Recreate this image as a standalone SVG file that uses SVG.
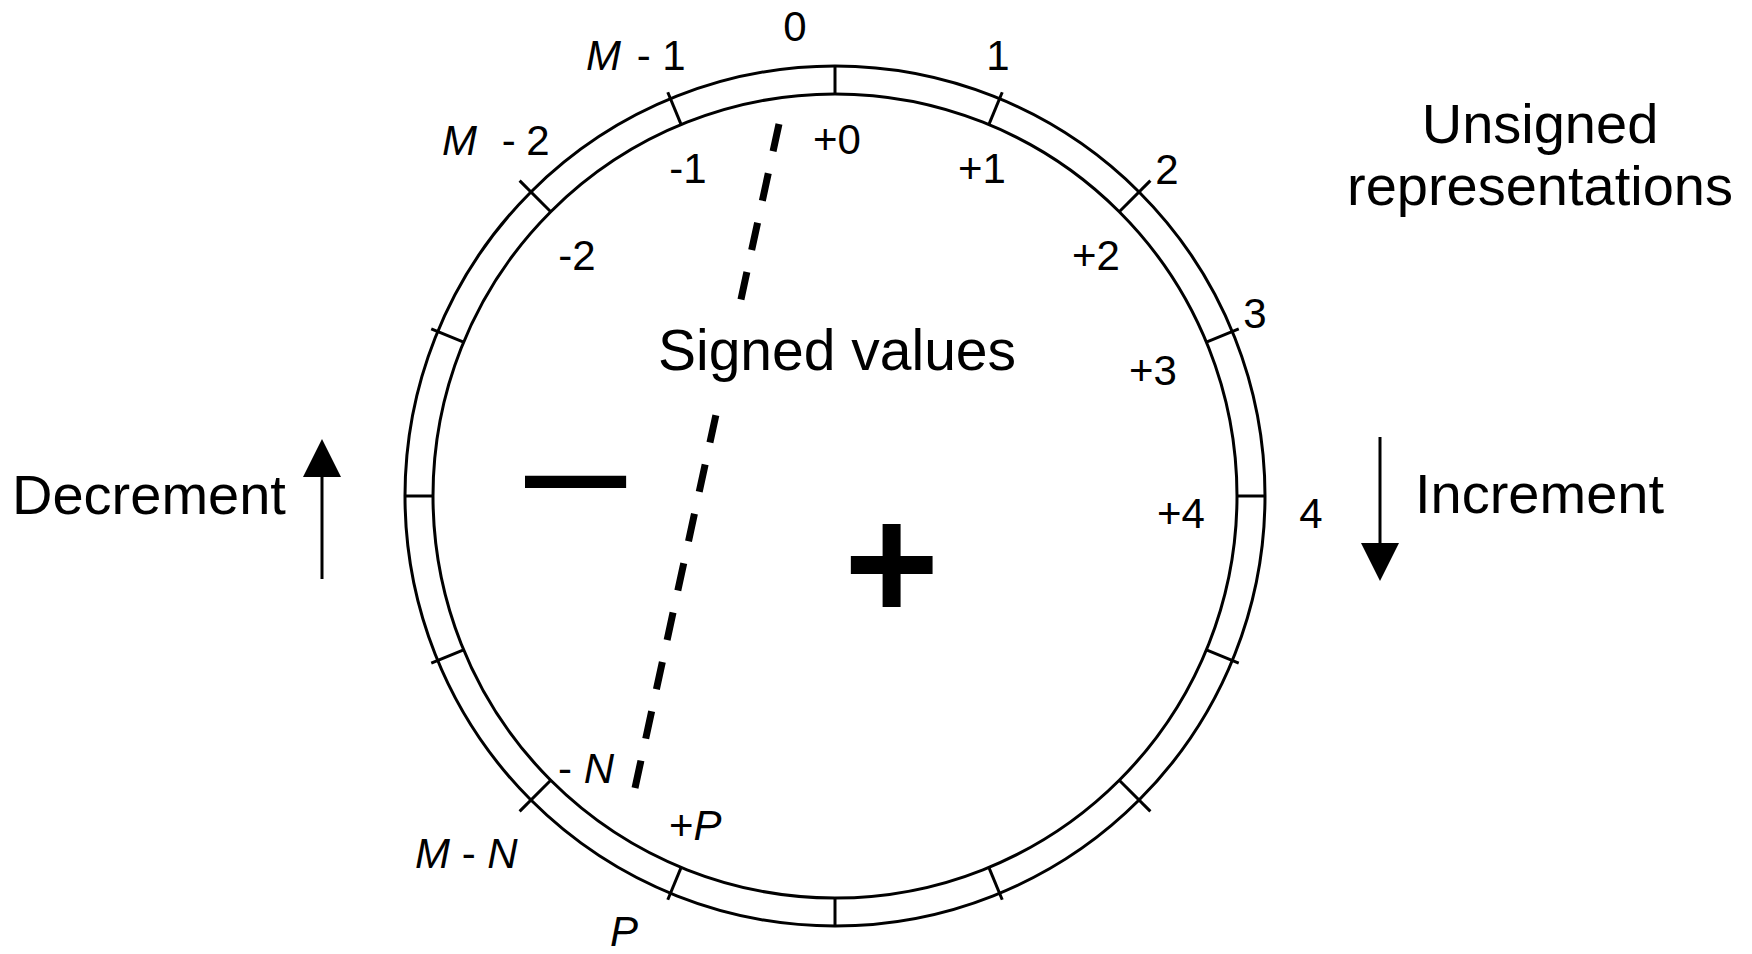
<svg xmlns="http://www.w3.org/2000/svg" width="1752" height="954" viewBox="0 0 1752 954">
<style>
.ring{fill:none;stroke:#000;stroke-width:3}
.tick{stroke:#000;stroke-width:3}
.t{font-family:"Liberation Sans",Arial,sans-serif;font-size:42px;fill:#000}
.big{font-size:56px}
.c{text-anchor:middle}
.i{font-style:italic}
.dash{fill:none;stroke:#000;stroke-width:7;stroke-dasharray:28 22.5}
.arr{stroke:#000;stroke-width:3;fill:none}
</style>
<defs>
<marker id="head" viewBox="0 0 38 38" refX="28" refY="19" markerWidth="38" markerHeight="38" markerUnits="userSpaceOnUse" orient="auto">
<path d="M0,0 L38,19 L0,38 Z" fill="#000"/>
</marker>
</defs>
<rect width="1752" height="954" fill="#fff"/>
<g id="ring">
<circle class="ring" cx="835" cy="496" r="430"/>
<circle class="ring" cx="835" cy="496" r="402"/>
</g>
<g id="ticks">
<line class="tick" x1="835" y1="94" x2="835" y2="66"/>
<line class="tick" x1="988.84" y1="124.6" x2="1002.23" y2="92.26"/>
<line class="tick" x1="1119.26" y1="211.74" x2="1150.37" y2="180.63"/>
<line class="tick" x1="1206.4" y1="342.16" x2="1238.74" y2="328.77"/>
<line class="tick" x1="1237" y1="496" x2="1265" y2="496"/>
<line class="tick" x1="1206.4" y1="649.84" x2="1238.74" y2="663.23"/>
<line class="tick" x1="1119.26" y1="780.26" x2="1150.37" y2="811.37"/>
<line class="tick" x1="988.84" y1="867.4" x2="1002.23" y2="899.74"/>
<line class="tick" x1="835" y1="898" x2="835" y2="926"/>
<line class="tick" x1="681.16" y1="867.4" x2="667.77" y2="899.74"/>
<line class="tick" x1="550.74" y1="780.26" x2="519.63" y2="811.37"/>
<line class="tick" x1="463.6" y1="649.84" x2="431.26" y2="663.23"/>
<line class="tick" x1="433" y1="496" x2="405" y2="496"/>
<line class="tick" x1="463.6" y1="342.16" x2="431.26" y2="328.77"/>
<line class="tick" x1="550.74" y1="211.74" x2="519.63" y2="180.63"/>
<line class="tick" x1="681.16" y1="124.6" x2="667.77" y2="92.26"/>
</g>
<g id="unsigned-labels">
<text class="t c" x="795" y="41">0</text>
<text class="t c" x="998" y="70">1</text>
<text class="t c" x="1167" y="184">2</text>
<text class="t c" x="1255" y="328">3</text>
<text class="t c" x="1311" y="528">4</text>
<text class="t" x="586" y="70"><tspan class="i">M</tspan><tspan dx="4"> - 1</tspan></text>
<text class="t" x="442" y="155"><tspan class="i">M</tspan><tspan dx="13"> -</tspan><tspan dx="-1"> 2</tspan></text>
<text class="t" x="415" y="868"><tspan class="i">M</tspan> - <tspan class="i">N</tspan></text>
<text class="t i" x="610" y="946">P</text>
</g>
<g id="signed-labels">
<text class="t c" x="837" y="154">+0</text>
<text class="t c" x="982" y="183">+1</text>
<text class="t c" x="1096" y="270">+2</text>
<text class="t c" x="1153" y="385">+3</text>
<text class="t c" x="1181" y="528">+4</text>
<text class="t c" x="688" y="183">-1</text>
<text class="t c" x="577" y="270">-2</text>
<text class="t" x="558" y="783">- <tspan class="i">N</tspan></text>
<text class="t" x="669" y="840">+<tspan class="i">P</tspan></text>
</g>
<g id="connectors">
<line class="dash" x1="779" y1="124" x2="740.95" y2="299.4"/>
<line class="dash" x1="715.86" y1="415.15" x2="635" y2="788"/>
<line class="arr" x1="322" y1="579" x2="322" y2="449" marker-end="url(#head)"/>
<line class="arr" x1="1380" y1="437" x2="1380" y2="571" marker-end="url(#head)"/>
</g>
<g id="signs">
<text class="t" x="525" y="528" style="font-size:182px">–</text>
<text class="t c" x="891.5" y="620" style="font-size:163px;font-weight:bold">+</text>
</g>
<g id="titles">
<text class="t big c" x="837" y="370" style="font-size:57px">Signed values</text>
<text class="t big c" x="1540" y="143">Unsigned</text>
<text class="t big c" x="1540" y="205">representations</text>
<text class="t big" x="12" y="514">Decrement</text>
<text class="t big" x="1415" y="513">Increment</text>
</g>
</svg>
